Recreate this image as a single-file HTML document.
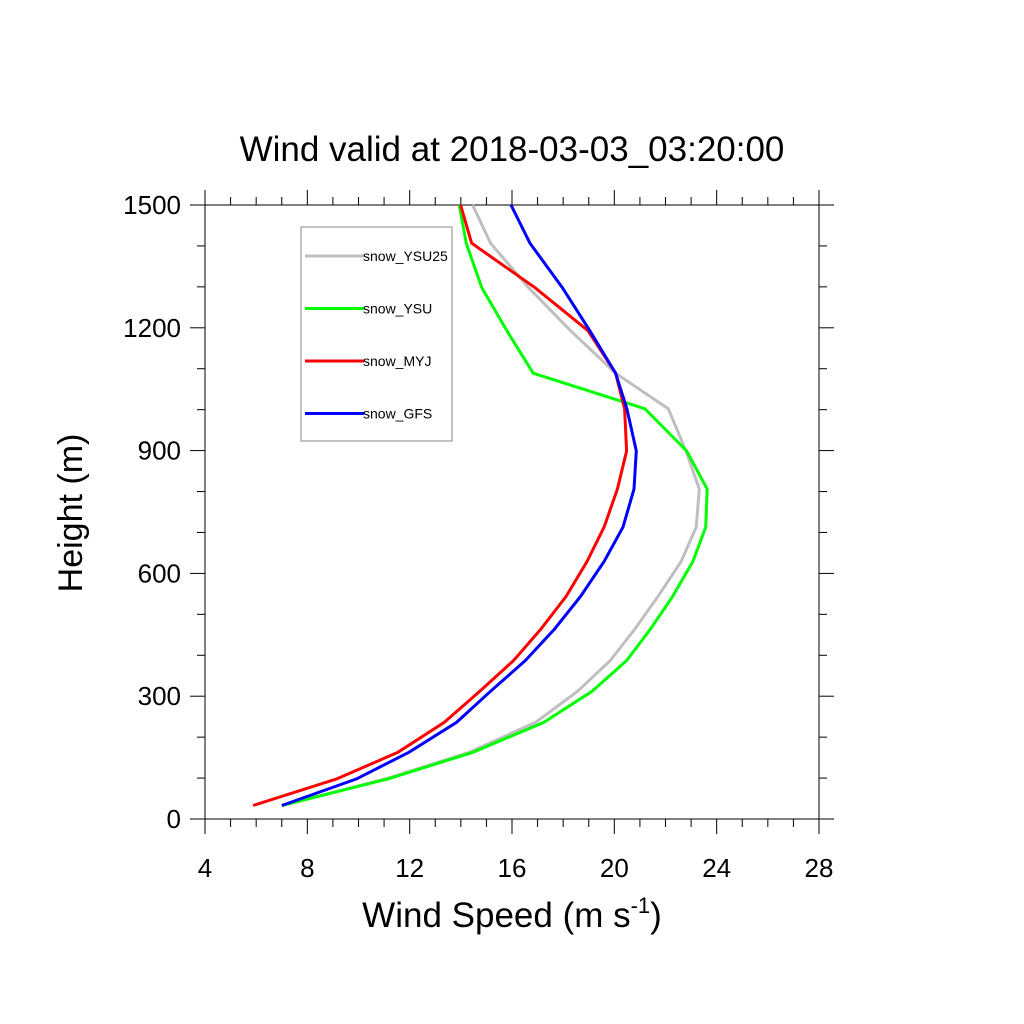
<!DOCTYPE html>
<html><head><meta charset="utf-8"><style>
body{margin:0;background:#fff;}
svg{display:block;font-family:"Liberation Sans",Arial,sans-serif;}
</style></head><body>
<svg id="chart" width="1024" height="1024" viewBox="0 0 1024 1024">
<text x="512" y="161" text-anchor="middle" font-size="35">Wind valid at 2018-03-03_03:20:00</text>
<g id="axes"></g>
<g id="series"></g>
<text x="512" y="927" text-anchor="middle" font-size="35">Wind Speed (m s<tspan dy="-14" font-size="22">-1</tspan><tspan dy="14">)</tspan></text>
<text transform="translate(82,513) rotate(-90)" text-anchor="middle" font-size="34">Height (m)</text>
<g id="legend">
<rect x="301" y="227" width="151" height="214" fill="#fff" stroke="#888" stroke-width="1"/>
</g>
</svg>
<script>
const heights=[33,98,163,236,312,387,464,544,629,713,806,899,1002,1089,1193,1298,1407,1500];
const seriesNames=["snow_YSU25","snow_YSU","snow_MYJ","snow_GFS"];
const seriesColors=["#bfbfbf","#00ff00","#ff0000","#0000ff"];
const ysu25=[7.0,11.06,14.33,16.92,18.56,19.84,20.8,21.71,22.61,23.2,23.32,22.8,22.11,20.05,18.29,16.65,15.16,14.46];
const ysu=[7.0,11.15,14.47,17.24,19.13,20.48,21.41,22.28,23.07,23.57,23.63,22.83,21.2,16.83,15.8,14.82,14.21,13.94];
const myj=[5.88,9.15,11.54,13.35,14.74,16.06,17.13,18.12,18.93,19.6,20.12,20.48,20.4,20.05,18.97,16.9,14.42,13.99];
const gfs=[7.0,9.92,11.97,13.83,15.16,16.52,17.66,18.68,19.6,20.34,20.77,20.86,20.49,20.05,19.04,17.97,16.7,15.96];
const xTicks=[4,8,12,16,20,24,28];
const yTicks=[0,300,600,900,1200,1500];
const allSeries=[ysu25,ysu,myj,gfs];

const NS="http://www.w3.org/2000/svg";
const L=205,R=819,T=205,B=819;
function xs(v){return L+(v-4)/24*(R-L);}
function ys(h){return B-h/1500*(B-T);}
function mk(tag,attrs,parent){const e=document.createElementNS(NS,tag);for(const k in attrs)e.setAttribute(k,attrs[k]);parent.appendChild(e);return e;}
const axes=document.getElementById('axes');
const frame=mk('rect',{x:L,y:T,width:R-L,height:B-T,fill:'none',stroke:'#000','stroke-width':1},axes);


for(let v=4;v<=28;v++){
  const major=(v%4===0);const len=major?15:8;
  const x=xs(v);
  const tb=mk('line',{x1:x,x2:x,y1:B,y2:B+len,stroke:'#000','stroke-width':1},axes);
  
  
  const tt=mk('line',{x1:x,x2:x,y1:T,y2:T-len,stroke:'#000','stroke-width':1},axes);
  
  
}
xTicks.forEach(v=>{
  const t=mk('text',{x:xs(v),y:877,'text-anchor':'middle','font-size':26},axes);
  t.textContent=v;
  
  
});
for(let h=0;h<=1500;h+=100){
  const major=(h%300===0);const len=major?15:8;
  const y=ys(h);
  const tl=mk('line',{x1:L,x2:L-len,y1:y,y2:y,stroke:'#000','stroke-width':1},axes);
  
  
  const tr=mk('line',{x1:R,x2:R+len,y1:y,y2:y,stroke:'#000','stroke-width':1},axes);
  
  
}
yTicks.forEach(h=>{
  const t=mk('text',{x:181,y:ys(h)+9,'text-anchor':'end','font-size':26},axes);
  t.textContent=h;
  
  
});
const sg=document.getElementById('series');
allSeries.forEach((vals,i)=>{
  const pts=vals.map((v,j)=>xs(v).toFixed(1)+','+ys(heights[j]).toFixed(1)).join(' ');
  const p=mk('polyline',{points:pts,fill:'none',stroke:seriesColors[i],'stroke-width':3,'stroke-linejoin':'miter'},sg);
  
  
});
const lg=document.getElementById('legend');
seriesNames.forEach((n,i)=>{
  const y=256+i*52.5;
  const ln=mk('line',{x1:305,x2:364,y1:y,y2:y,stroke:seriesColors[i],'stroke-width':3},lg);
  
  
  const t=mk('text',{x:363,y:y+5,'font-size':14},lg);
  t.textContent=n;
  
  
});
</script>
</body></html>
